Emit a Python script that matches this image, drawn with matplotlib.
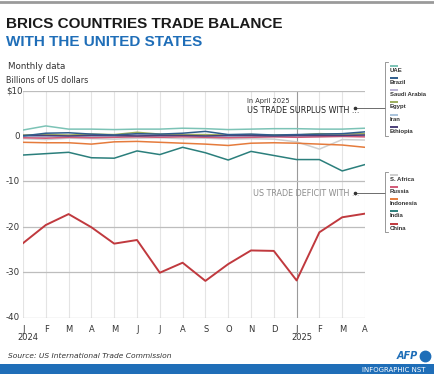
import matplotlib
matplotlib.use("Agg")
import matplotlib.pyplot as plt
import numpy as np

# monthly US trade balance with BRICS countries, billions of USD (Jan 2024 - Apr 2025)
month_labels = ["J", "F", "M", "A", "M", "J", "J", "A", "S", "O", "N", "D", "J", "F", "M", "A"]

uae = [1.3, 2.2, 1.5, 1.5, 1.4, 1.5, 1.5, 1.7, 1.6, 1.4, 1.5, 1.6, 1.6, 1.5, 1.5, 1.7]
brazil = [0.0, 0.6, 0.7, 0.4, 0.2, 0.5, 0.4, 0.6, 1.0, 0.3, 0.4, 0.2, 0.3, 0.4, 0.5, 0.9]
saudi = [-0.2, -0.3, 0.0, 0.2, 0.1, 0.3, 0.0, 0.2, 0.1, 0.0, -0.1, 0.1, 0.2, 0.3, 0.2, 0.3]
egypt = [0.2, 0.3, 0.2, 0.4, 0.3, 0.8, 0.4, 0.3, 0.3, 0.2, 0.3, 0.2, 0.2, 0.5, 0.4, 0.5]
iran = [-0.1, 0.0, -0.1, 0.0, -0.1, 0.0, 0.0, -0.1, 0.0, 0.0, -0.1, 0.0, 0.0, -0.1, 0.0, 0.0]
ethiopia = [0.1, 0.1, 0.0, 0.1, 0.1, 0.0, 0.1, 0.1, 0.0, 0.1, 0.1, 0.0, 0.1, 0.1, 0.1, 0.2]
s_africa = [-0.6, -0.8, -0.5, -0.6, -0.7, -0.5, -0.4, -0.6, -0.5, -0.7, -0.6, -0.7, -1.3, -2.9, -0.8, -0.9]
russia = [-0.4, -0.5, -0.3, -0.4, -0.3, -0.2, -0.3, -0.2, -0.3, -0.4, -0.3, -0.2, -0.3, -0.2, -0.1, -0.2]
indonesia = [-1.4, -1.5, -1.5, -1.8, -1.3, -1.2, -1.4, -1.6, -1.8, -2.1, -1.6, -1.5, -1.6, -1.8, -2.0, -2.5]
india = [-4.2, -3.9, -3.6, -4.8, -4.9, -3.3, -4.1, -2.5, -3.7, -5.3, -3.4, -4.3, -5.2, -5.2, -7.7, -6.3]
china = [-23.6, -19.6, -17.2, -20.1, -23.7, -22.9, -30.1, -27.9, -31.9, -28.2, -25.2, -25.3, -31.8, -21.2, -17.9, -17.1]

surplus = [("UAE", uae, "#7cc3b6"), ("Brazil", brazil, "#2f5d8c"), ("Saudi Arabia", saudi, "#b9b1d3"),
           ("Egypt", egypt, "#9cae5c"), ("Iran", iran, "#a9c3dc"), ("Ethiopia", ethiopia, "#4b3f78")]
deficit = [("S. Africa", s_africa, "#cfcfcf"), ("Russia", russia, "#d25a78"), ("Indonesia", indonesia, "#e57b3c"),
           ("India", india, "#2b7f7c"), ("China", china, "#c0393e")]

W, H = 434, 374
fig = plt.figure(figsize=(W / 100, H / 100), dpi=100)
fig.patch.set_facecolor("white")

ax = fig.add_axes([23 / W, 1 - 317.7 / H, (365 - 23) / W, (317.7 - 90.5) / H])
x = np.arange(len(month_labels))

for m in x:
    ax.axvline(m, color="#9a9a9a" if m == 12 else "#e4e4e4", lw=0.8, zorder=0)
for v in [10, 0, -10, -20, -30, -40]:
    ax.axhline(v, color="#bdbdbd", lw=0.9, zorder=0)

draw_order = [deficit[0], surplus[2], surplus[4], surplus[3], deficit[1], surplus[5],
              surplus[1], surplus[0], deficit[2], deficit[3], deficit[4]]
for name, vals, col in draw_order:
    ax.plot(x, vals, color=col, lw=1.4 if name == "China" else 1.1, zorder=3)

ax.set_xlim(0, 15)
ax.set_ylim(-40, 10)
for s in ax.spines.values():
    s.set_visible(False)
ax.set_xticks([])
ax.set_yticks([])

# overlay in pixel coordinates for all the annotations
ov = fig.add_axes([0, 0, 1, 1], facecolor="none")
ov.set_xlim(0, W)
ov.set_ylim(H, 0)
ov.axis("off")

ov.plot([0, W], [2, 2], color="#9a9a9a", lw=2)
ov.text(6, 24, "BRICS COUNTRIES TRADE BALANCE", fontsize=11, fontweight="heavy",
        family="Liberation Sans", color="#1a1a1a", va="center")
ov.text(6, 42, "WITH THE UNITED STATES", fontsize=11, fontweight="heavy",
        family="Liberation Sans", color="#1f6eb8", va="center")
ov.text(8, 66, "Monthly data", fontsize=6.3, color="#333333", va="center")
ov.text(6, 80, "Billions of US dollars", fontsize=5.8, color="#333333", va="center")

for v, lab in zip([10, 0, -10, -20, -30, -40], ["$10", "0", "-10", "-20", "-30", "-40"]):
    py = 136.3 - v * 4.535
    ov.text(20 if lab != "$10" else 6, py, lab, fontsize=6.2, color="#333333", va="center",
            ha="right" if lab != "$10" else "left")

for i, lab in enumerate(month_labels):
    px = 23.3 + i * 22.8
    ov.text(px, 329, lab, fontsize=6, color="#333333", ha="center", va="center")
ov.text(17, 338, "2024", fontsize=6, color="#333333", va="center")
ov.text(291, 338, "2025", fontsize=6, color="#333333", va="center")

# surplus annotation + legend
ov.text(247, 101, "In April 2025", fontsize=4.8, color="#333333", va="center")
ov.text(247, 110, "US TRADE SURPLUS WITH ...", fontsize=5.8, color="#222222", va="center")
ov.plot([355, 385], [108, 108], color="#555555", lw=0.6)
ov.plot([355], [108], "o", color="#333333", ms=1.6)
ov.plot([388, 385, 385, 388], [62, 62, 136, 136], color="#888888", lw=0.6)
for i, (name, vals, col) in enumerate(surplus):
    py = 70 + i * 12.3
    ov.plot([390, 398], [py - 4.5, py - 4.5], color=col, lw=1.4, solid_capstyle="butt")
    ov.text(390, py, name, fontsize=4.3, fontweight="bold", family="Liberation Sans",
            color="#333333", va="center")

# deficit annotation + legend
ov.text(253, 193, "US TRADE DEFICIT WITH ...", fontsize=5.8, color="#8c8c8c", va="center")
ov.plot([355, 385], [193, 193], color="#555555", lw=0.6)
ov.plot([355], [193], "o", color="#333333", ms=1.6)
ov.plot([388, 385, 385, 388], [172, 172, 232, 232], color="#888888", lw=0.6)
for i, (name, vals, col) in enumerate(deficit):
    py = 179 + i * 12.3
    ov.plot([390, 398], [py - 4.5, py - 4.5], color=col, lw=1.4, solid_capstyle="butt")
    ov.text(390, py, name, fontsize=4.3, fontweight="bold", family="Liberation Sans",
            color="#333333", va="center")

# footer
ov.text(8, 356, "Source: US International Trade Commission", fontsize=5.4, style="italic",
        color="#333333", va="center")
ov.text(418, 356, "AFP", fontsize=7, fontweight="bold", style="italic", color="#1f6eb8",
        ha="right", va="center")
ov.plot([425], [356], "o", color="#1f6eb8", ms=7.5)
ov.fill_between([0, W], 364, 374, color="#1f6eb8", lw=0)
ov.text(426, 369.5, "INFOGRAPHIC NST", fontsize=5, color="white", ha="right", va="center")

fig.savefig("out.png", dpi=100)
